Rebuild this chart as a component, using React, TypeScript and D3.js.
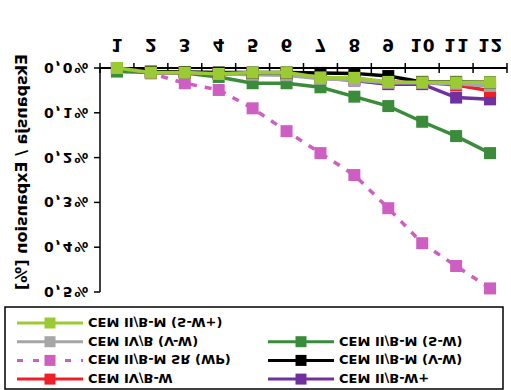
import React from "react";
import * as d3 from "d3";

// chart is drawn mirrored top-to-bottom, like the reference scan
const categories = ["1", "2", "3", "4", "5", "6", "7", "8", "9", "10", "11", "12"];
const yTicks = [0, 0.1, 0.2, 0.3, 0.4, 0.5];
const yTickLabels = ["0,0%", "0,1%", "0,2%", "0,3%", "0,4%", "0,5%"];

const limeValues = [0, 0.01, 0.01, 0.013, 0.01, 0.01, 0.021, 0.022, 0.031, 0.032, 0.032, 0.032];
const grayValues = [0, 0.01, 0.01, 0.013, 0.015, 0.016, 0.024, 0.027, 0.033, 0.033, 0.035, 0.04];
const pinkValues = [0, 0.012, 0.034, 0.049, 0.09, 0.141, 0.19, 0.239, 0.313, 0.391, 0.442, 0.492];
const redValues = [0, 0.01, 0.01, 0.013, 0.012, 0.013, 0.022, 0.024, 0.032, 0.032, 0.038, 0.051];
const greenValues = [0.008, 0.01, 0.011, 0.02, 0.034, 0.034, 0.043, 0.064, 0.085, 0.12, 0.152, 0.19];
const blackValues = [0, 0.008, 0.009, 0.01, 0.01, 0.01, 0.011, 0.012, 0.018, 0.031, 0.031, 0.032];
const purpleValues = [0, 0.01, 0.01, 0.013, 0.013, 0.014, 0.022, 0.028, 0.036, 0.036, 0.066, 0.07];

const lime = { name: "CEM II/B-M (S-W+)", color: "#9acb34", values: limeValues };
const gray = { name: "CEM IV/B (V-W)", color: "#a6a6a6", values: grayValues };
const pink = { name: "CEM II/B-M SR (WP)", color: "#cc5fc1", values: pinkValues, dashed: true };
const red = { name: "CEM IV/B-W", color: "#ee1f26", values: redValues };
const green = { name: "CEM II/B-M (S-W)", color: "#3a8c3a", values: greenValues };
const black = { name: "CEM II/B-M (V-W)", color: "#000000", values: blackValues };
const purple = { name: "CEM II/B-W+", color: "#7030a0", values: purpleValues };

// draw order (last on top)
const drawOrder = [pink, green, purple, red, gray, black, lime];
const legendLeft = [lime, gray, pink, red];
const legendRight = [null, green, black, purple];

const W = 511;
const H = 390;
const font = "'DejaVu Sans', Verdana, sans-serif";

const x = d3.scaleBand().domain(categories).range([100, 507]);
const y = d3.scaleLinear().domain([0, 0.5]).range([68, 292]);

const line = d3
  .line<number>()
  .x((d, i) => x(categories[i])! + x.bandwidth() / 2)
  .y((d) => y(d));

// text mirrored vertically, baseline at the given point
const flip = (tx: number, ty: number) => `translate(${tx},${ty}) scale(1,-1)`;

const LegendItem = ({ s, lx, ly }: { s: any; lx: number; ly: number }) => (
  <g>
    <line
      x1={lx}
      x2={lx + 66}
      y1={ly}
      y2={ly}
      stroke={s.color}
      strokeWidth={3}
      strokeDasharray={s.dashed ? "6,10" : undefined}
    />
    <rect x={lx + 33 - 5.5} y={ly - 5.5} width={11} height={11} fill={s.color} />
    <text
      transform={flip(lx + 71, ly - 5)}
      fontFamily={font}
      fontWeight="bold"
      fontSize={13}
      fill="#000"
    >
      {s.name}
    </text>
  </g>
);

export default function App() {
  const edges = d3.range(categories.length + 1).map((i) => 100 + i * x.step());

  return (
    <svg
      width={W}
      height={H}
      style={{ position: "absolute", left: 0, top: 0, background: "#fff" }}
    >
      <rect width={W} height={H} fill="#fff" />

      {/* y title */}
      <text
        transform={`translate(27,172) scale(1,-1) rotate(-90)`}
        textAnchor="middle"
        fontFamily={font}
        fontWeight="bold"
        fontSize={16}
      >
        Ekspansja / Expansion [%]
      </text>

      {/* y axis */}
      <line x1={100} x2={100} y1={y(0)} y2={y(0.5)} stroke="#000" strokeWidth={1.5} />
      {yTicks.map((t, i) => (
        <g key={t}>
          <line x1={94} x2={100} y1={y(t)} y2={y(t)} stroke="#000" strokeWidth={1.5} />
          <text
            transform={flip(90, y(t) - 5)}
            textAnchor="end"
            fontFamily={font}
            fontWeight="bold"
            fontSize={14}
            letterSpacing={1.8}
          >
            {yTickLabels[i]}
          </text>
        </g>
      ))}

      {/* x axis */}
      <line x1={100} x2={507} y1={y(0)} y2={y(0)} stroke="#000" strokeWidth={2} />
      {edges.map((e, i) => (
        <line key={i} x1={e} x2={e} y1={y(0) - 5} y2={y(0) + 5} stroke="#000" strokeWidth={1.5} />
      ))}
      {categories.map((c) => (
        <text
          key={c}
          transform={flip(x(c)! + x.bandwidth() / 2 + 0.5, 39)}
          textAnchor="middle"
          fontFamily={font}
          fontWeight="bold"
          fontSize={17}
          letterSpacing={1}
        >
          {c}
        </text>
      ))}

      {/* series */}
      {drawOrder.map((s) => (
        <g key={s.name}>
          <path
            d={line(s.values)!}
            fill="none"
            stroke={s.color}
            strokeWidth={3.5}
            strokeDasharray={s.dashed ? "7,8" : undefined}
          />
          {s.values.map((v, i) => (
            <rect
              key={i}
              x={x(categories[i])! + x.bandwidth() / 2 - 6}
              y={y(v) - 6}
              width={12}
              height={12}
              fill={s.color}
            />
          ))}
        </g>
      ))}

      {/* legend */}
      <rect x={5} y={307} width={498} height={82} fill="none" stroke="#000" strokeWidth={1.5} />
      {legendLeft.map((s, i) => (
        <LegendItem key={s.name} s={s} lx={17} ly={323 + i * 18.7} />
      ))}
      {legendRight.map((s, i) =>
        s ? <LegendItem key={s.name} s={s} lx={268} ly={323 + i * 18.7} /> : null
      )}
    </svg>
  );
}
